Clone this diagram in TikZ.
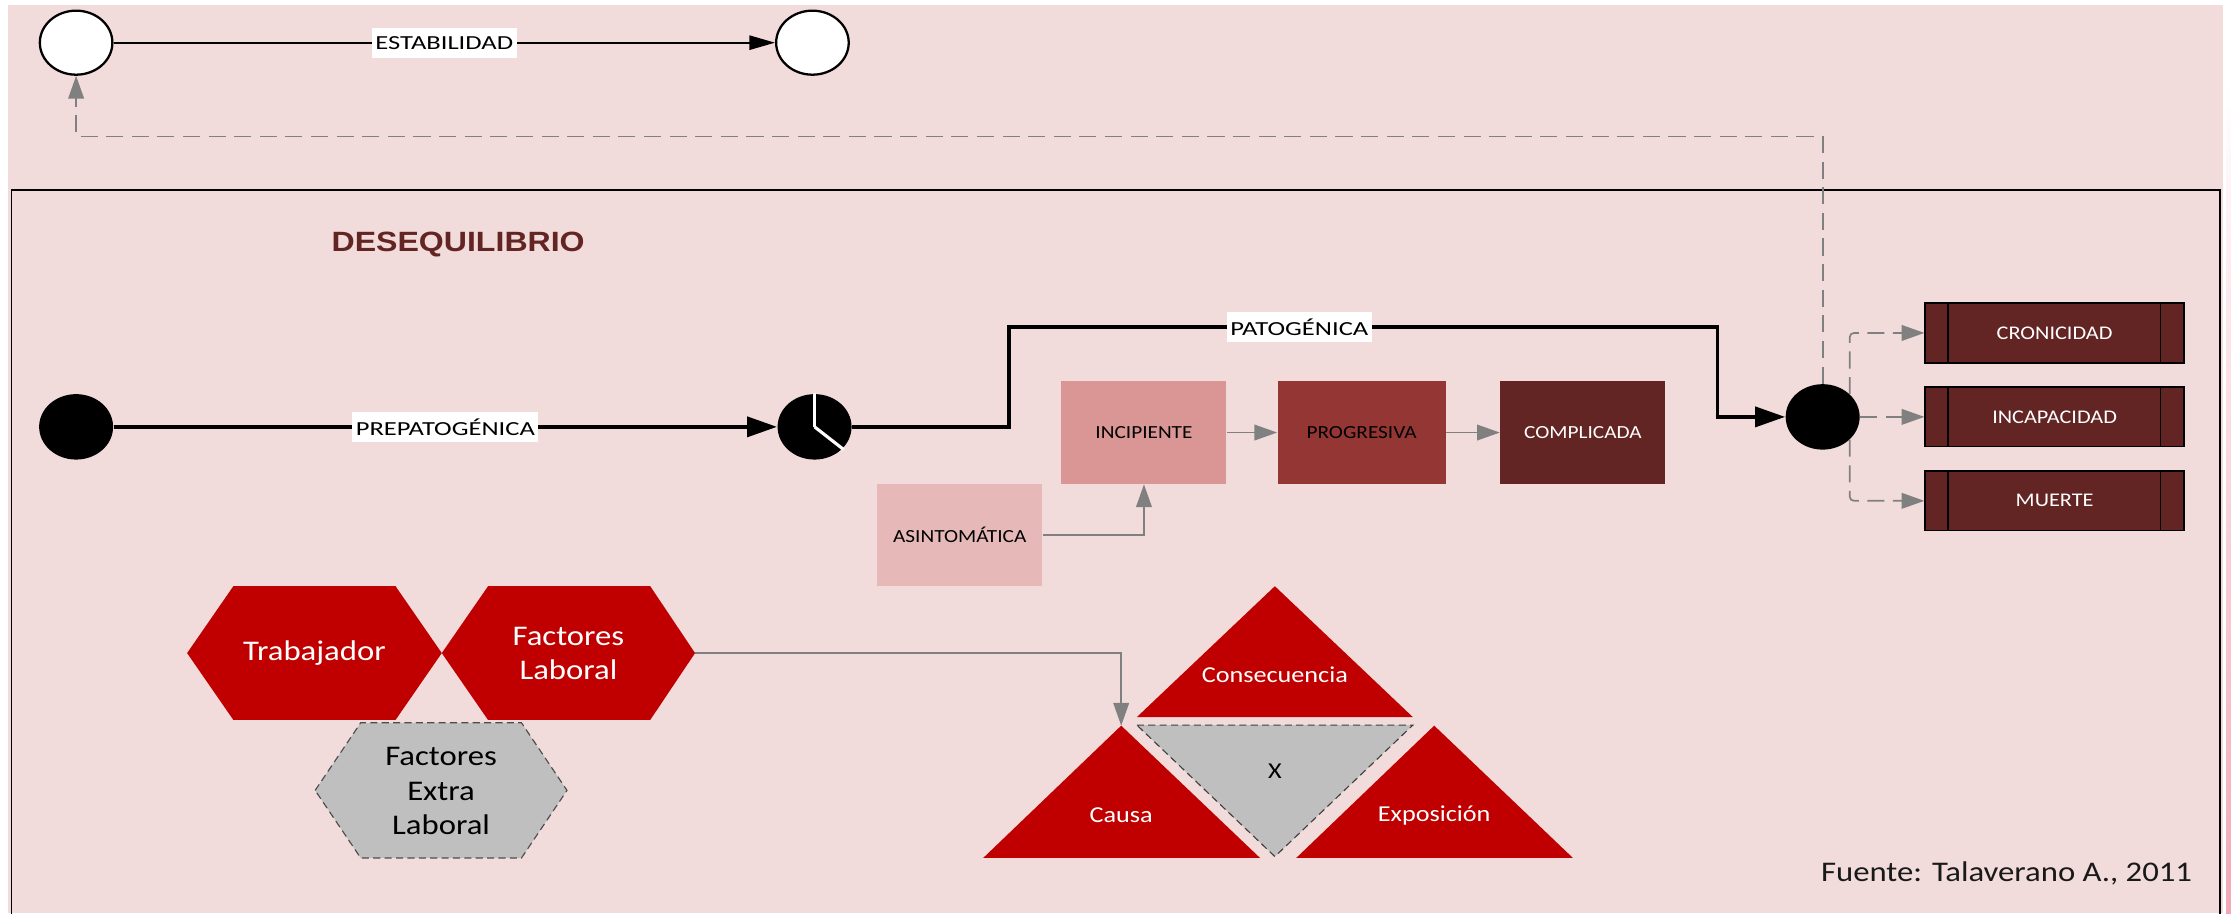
\documentclass[tikz,border=0pt]{standalone}
\usepackage{fontspec}
\setmainfont{Carlito}[FakeStretch=1.15]
\newfontfamily\titlefont{Liberation Sans}[FakeStretch=1.15]
\usepackage{graphicx}
\usetikzlibrary{arrows.meta,shapes.geometric,calc}
\definecolor{bgpink}{HTML}{F2DCDB}
\definecolor{incip}{HTML}{D99694}
\definecolor{asint}{HTML}{E6B9B8}
\definecolor{progr}{HTML}{943634}
\definecolor{dkred}{HTML}{632523}
\definecolor{hexred}{HTML}{C00000}
\definecolor{lgray}{HTML}{BFBFBF}
\definecolor{lnGray}{HTML}{808080}
\definecolor{stripe}{HTML}{F3A7B5}
\begin{document}
\begin{tikzpicture}[x=0.5pt,y=-0.5pt,
  stW/.style={ellipse,draw=black,line width=0.8pt,fill=white,minimum width=25.5pt,minimum height=22.5pt,inner sep=0pt},
  stB/.style={ellipse,fill=black,minimum width=26pt,minimum height=23pt,inner sep=0pt},
  lbl/.style={fill=white,inner xsep=1.2pt,inner ysep=0pt,minimum height=10.5pt,font=\fontsize{7pt}{8pt}\selectfont,text=black},
  thinarr/.style={line width=0.7pt,-{Triangle[length=9pt,width=5pt]}},
  thickarr/.style={line width=1.3pt,-{Triangle[length=10.5pt,width=7pt]}},
  garr/.style={draw=lnGray,line width=0.6pt,-{Triangle[length=8pt,width=5.5pt]},lnGray},
  gdash/.style={dash pattern=on 6pt off 3pt},
  stagebox/.style={rectangle,minimum width=58pt,minimum height=36pt,inner sep=0pt,font=\fontsize{6.5pt}{7.5pt}\selectfont},
  endbox/.style={rectangle,draw=black,line width=0.5pt,fill=dkred,minimum width=91pt,minimum height=21pt,inner sep=0pt,text=white,font=\fontsize{6.8pt}{8pt}\selectfont},
  hextxt/.style={align=center,font=\fontsize{10pt}{12pt}\selectfont,inner sep=0pt},
  tritxt/.style={font=\fontsize{8pt}{9.6pt}\selectfont,inner sep=0pt},
]
\useasboundingbox (0,0) rectangle (1568,641.7);
\clip (0,0) rectangle (1568,641.7);
\fill[white] (0,0) rectangle (1568,641.7);
\fill[bgpink] (5.9,3.5) rectangle (1562.5,641.7);
\shade[top color=white,bottom color=stripe] (1564.5,60) rectangle (1568,641.7);
\draw[line width=0.6pt] (8,133.5) rectangle (1560.3,700);

% title
\node[font=\titlefont\bfseries\fontsize{9.8pt}{11pt}\selectfont,text=dkred,inner sep=0pt] (deseq) at (322,172) {DESEQUILIBRIO};

% stability
\node[stW] (stabL) at (53.5,30) {};
\node[stW] (stabR) at (571,30) {};
\draw[thinarr] (stabL) -- node[lbl]{\scalebox{1.16}[1]{ESTABILIDAD}} (stabR);

% prepatogenic
\node[stB] (preL) at (53.5,300) {};
\node[stB] (pie) at (572.5,300) {};
\draw[white,line width=1.1pt] (pie.center) -- ++(0,-23.5);
\draw[white,line width=1.1pt] (pie.center) -- ++(20.5,16);
\draw[thickarr] (preL) -- node[lbl]{\scalebox{1.16}[1]{PREPATOGÉNICA}} (pie);

% patogenic
\node[stB] (endE) at (1281,293) {};
\draw[thickarr] (pie.east) -- (709,300) -- (709,230) -- node[lbl,pos=0.41]{\scalebox{1.16}[1]{PATOGÉNICA}} (1207,230) -- (1207,293) -- (endE.west);

% stages
\node[stagebox,fill=incip] (incip) at (804,304) {INCIPIENTE};
\node[stagebox,fill=progr,minimum width=59pt] (prog) at (957,304) {PROGRESIVA};
\node[stagebox,fill=dkred,text=white] (compl) at (1112.5,304) {COMPLICADA};
\node[stagebox,fill=asint] (asin) at (674.5,376) {ASINTOMÁTICA};
\draw[garr] (incip) -- (prog);
\draw[garr] (prog) -- (compl);
\draw[garr] (asin.east) -| (incip.south);

% outcomes
\node[endbox] (cron) at (1444,234) {CRONICIDAD};
\node[endbox] (inca) at (1444,293) {INCAPACIDAD};
\node[endbox] (mue) at (1444,352) {MUERTE};
\foreach \n in {cron,inca,mue}{
  \draw[line width=0.5pt] ([xshift=8.25pt]\n.north west) -- ([xshift=8.25pt]\n.south west);
  \draw[line width=0.5pt] ([xshift=-8.5pt]\n.north east) -- ([xshift=-8.5pt]\n.south east);
}
\coordinate (splitU) at (1300,277);
\coordinate (splitD) at (1300,309);
\draw[garr,gdash,rounded corners=1.5pt] (splitU) |- (cron.west);
\draw[garr,gdash] (endE.east) -- (inca.west);
\draw[garr,gdash,rounded corners=1.5pt] (splitD) |- (mue.west);
\coordinate (retA) at (1281,96);
\draw[garr,gdash] (endE.north) -- (retA) -| (stabL.south);

% hexagons
\fill[hexred] (131.5,459) -- (164,412) -- (278,412) -- (310.5,459) -- (278,506) -- (164,506) -- cycle;
\fill[hexred] (310.5,459) -- (343,412) -- (457,412) -- (488.5,459) -- (457,506) -- (343,506) -- cycle;
\filldraw[fill=lgray,draw=black!70,line width=0.4pt,dash pattern=on 2.5pt off 1.5pt] (221.5,555.5) -- (253.5,508) -- (366.5,508) -- (398.5,555.5) -- (366.5,603) -- (253.5,603) -- cycle;
\node[hextxt,text=white] (trab) at (221,459) {Trabajador};
\node[hextxt,text=white] (flab) at (399.5,459) {Factores\\Laboral};
\node[hextxt,text=black] (fext) at (310,556) {Factores\\Extra\\Laboral};
\coordinate (flTip) at (488.5,459);

% triangles
\fill[hexred] (799,504) -- (993,504) -- (896,412) -- cycle;
\fill[hexred] (691,603) -- (885.6,603) -- (788,510) -- cycle;
\fill[hexred] (911,603) -- (1105.5,603) -- (1008,510) -- cycle;
\filldraw[fill=lgray,draw=black!75,line width=0.4pt,dash pattern=on 2.5pt off 1.5pt] (799,509.6) -- (993,509.6) -- (896,602) -- cycle;
\node[tritxt,text=white] (conse) at (896,474) {Consecuencia};
\node[tritxt,text=white] (causa) at (788,573) {Causa};
\node[tritxt,text=white] (expo) at (1008,573) {Exposición};
\node[tritxt,text=black] (xx) at (896,542) {X};
\coordinate (causaTop) at (788,510);
\draw[garr] (flTip) -| (causaTop);

% source
\node[anchor=east,font=\fontsize{10pt}{12pt}\selectfont,text=black!90,inner sep=0pt] (fuente) at (1541,614) {Fuente: Talaverano A., 2011};
\end{tikzpicture}
\end{document}
